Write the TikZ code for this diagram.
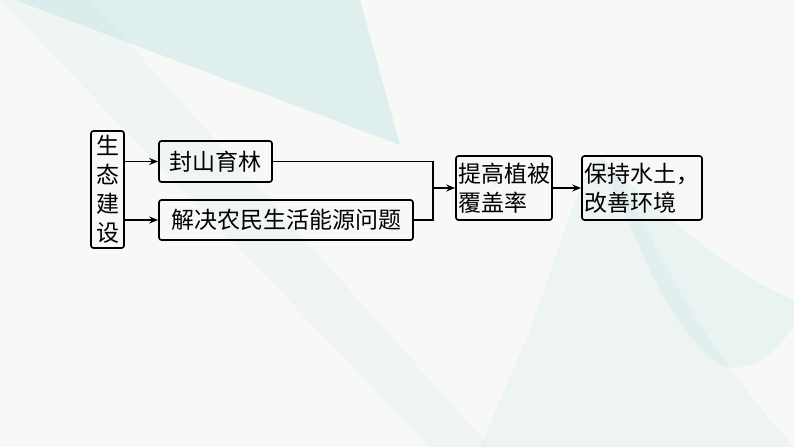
\documentclass[tikz,border=0pt]{standalone}
\usepackage{fontspec}
\newfontfamily\cjk{Noto Sans CJK SC}
\usetikzlibrary{arrows.meta}

\definecolor{canvas}{RGB}{248,248,246}
\definecolor{paleteal}{RGB}{200,232,232}

\tikzset{
  box/.style={draw, line width=1.7pt, rounded corners=2.5pt, inner sep=0pt,
    font=\cjk\fontsize{23}{29}\selectfont},
  flow/.style={line width=1.7pt, -{Stealth[length=9pt, width=7pt]}},
  bgshade/.style={fill=paleteal, draw=none, opacity=0.3}
}

\begin{document}
\begin{tikzpicture}[x=1pt, y=-1pt]
      % Canvas and pale background shapes
      \useasboundingbox (0,0) rectangle (794,447);
      \fill[canvas] (0,0) rectangle (794,447);
      \fill[bgshade, opacity=0.5] (15,0) -- (360,0) -- (400,145) -- cycle;
      \fill[bgshade, opacity=0.18] (0,0) -- (90,0) -- (490,447) -- (430,447) -- cycle;
      \fill[bgshade, opacity=0.22] (480,447) -- (530,330) .. controls (560,250) and (580,170) .. (600,158)
            .. controls (630,170) and (660,300) .. (794,447) -- cycle;
      \fill[bgshade, opacity=0.3] (600,158) .. controls (640,240) and (660,320) .. (720,365)
            .. controls (750,375) and (775,355) .. (794,325) -- (794,300)
            .. controls (720,270) and (650,200) .. cycle;

      % Boxes
      \node[box, minimum width=33pt, minimum height=117pt, align=center] (eco) at (107.5,189.5)
            {生\\态\\建\\设};
      \node[box, minimum width=113pt, minimum height=41pt] (forest) at (215.5,161.5) {封山育林};
      \node[box, minimum width=254pt, minimum height=40pt] (energy) at (286,220) {解决农民生活能源问题};
      \node[box, minimum width=96pt, minimum height=64pt, align=left] (cover) at (504,188)
            {提高植被\\覆盖率};
      \node[box, minimum width=120pt, minimum height=64pt, align=left] (soil) at (642,188)
            {保持水土，\\改善环境};

      % Connectors
      \coordinate (join) at (433,188);
      \draw[flow] (eco.east |- forest) -- (forest.west);
      \draw[flow] (eco.east |- energy) -- (energy.west);
      \draw[line width=1.7pt] (forest.east) -| (join) |- (energy.east);
      \draw[flow] (join) -- (cover.west);
      \draw[flow] (cover) -- (soil);
\end{tikzpicture}
\end{document}
